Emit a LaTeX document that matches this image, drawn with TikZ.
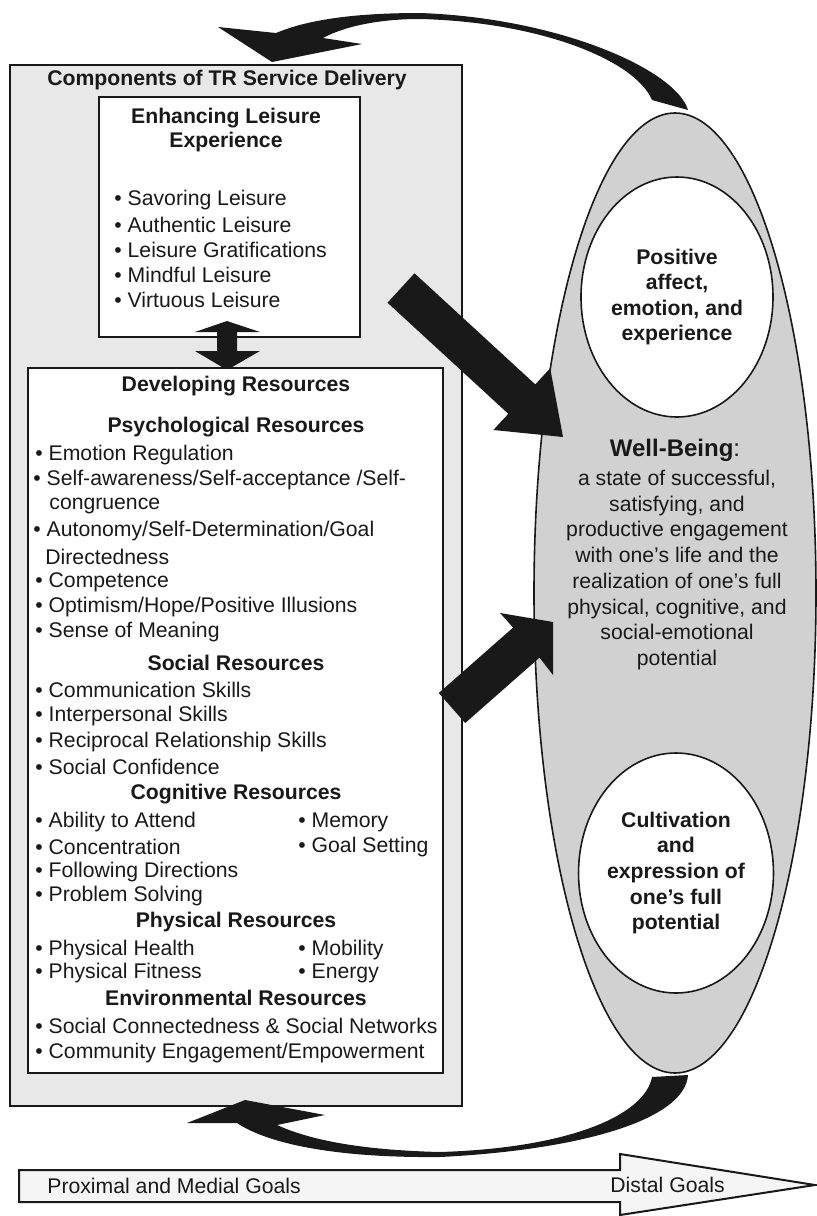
\documentclass[tikz,border=0pt]{standalone}
\usepackage{fontspec}
\setmainfont{Liberation Sans}
\usetikzlibrary{shapes.geometric}
\definecolor{boxgray}{gray}{0.91}
\definecolor{ellgray}{gray}{0.82}
\definecolor{goalgray}{gray}{0.96}
\definecolor{ink}{gray}{0.1}

\begin{document}
\begin{tikzpicture}[x=0.5pt, y=-0.5pt,
  every node/.style={inner sep=0pt, text=ink, font=\fontsize{10.6}{13}\selectfont},
  hdr/.style={font=\fontsize{10.6}{13}\selectfont\bfseries},
  item/.style={anchor=west},
  boxline/.style={draw=ink, line width=1pt},
  oval/.style={draw=ink, line width=0.8pt, ellipse, inner sep=0pt, align=center},
  fat/.style={fill=ink}]
  \useasboundingbox (0,0) rectangle (817,1216);

  % outer frame
  \draw[boxline, fill=boxgray] (10,65) rectangle (462,1106);
  \node[hdr] (comp) at (227,80) {Components of TR Service Delivery};

  % leisure experience
  \draw[boxline, fill=white] (99,97) rectangle (360,337);
  \node[hdr, align=center, font=\fontsize{10.6}{12}\selectfont\bfseries] (enh) at (226,130) {Enhancing Leisure\\Experience};
  \foreach \txt [count=\i] in {Savoring Leisure, Authentic Leisure, Leisure Gratifications, Mindful Leisure, Virtuous Leisure}
    \node[item] (enh-\i) at (114, {175+25*\i}) {• \txt};

  % double arrow between the boxes
  \fill[ink] (227,321) -- (260,332) -- (237,332) -- (237,351) -- (260,351) -- (227,370)
    -- (195,351) -- (217,351) -- (217,332) -- (195,332) -- cycle;

  % developing resources
  \draw[boxline, fill=white] (28,368) rectangle (443,1073);
  \node[hdr] (dev) at (236,386) {Developing Resources};

  \node[hdr] (psy) at (236,427) {Psychological Resources};
  \node[item] (psy-1) at (35,455) {• Emotion Regulation};
  \node[item] (psy-2) at (33,480) {• Self-awareness/Self-acceptance /Self-};
  \node[item] (psy-3) at (49,506) {congruence};
  \node[item] (psy-4) at (33,531) {• Autonomy/Self-Determination/Goal};
  \node[item] (psy-5) at (45,557) {Directedness};
  \node[item] (psy-6) at (35,582) {• Competence};
  \node[item] (psy-7) at (35,607) {• Optimism/Hope/Positive Illusions};
  \node[item] (psy-8) at (35,632) {• Sense of Meaning};

  \node[hdr] (soc) at (236,663) {Social Resources};
  \foreach \y/\txt [count=\i] in {690/Communication Skills, 716/Interpersonal Skills,
      742/Reciprocal Relationship Skills, 767/Social Confidence}
    \node[item] (soc-\i) at (35,\y) {• \txt};

  \node[hdr] (cog) at (236,794) {Cognitive Resources};
  \foreach \y/\a/\b [count=\i] in {822/Ability to Attend/Memory, 847/Concentration/Goal Setting} {
    \node[item] (cog-\i) at (35,\y) {• \a};
    \node[item] (cogr-\i) at (298,\y) {• \b};
  }
  \node[item] (cog-3) at (35,872) {• Following Directions};
  \node[item] (cog-4) at (35,896) {• Problem Solving};

  \node[hdr] (phy) at (236,922) {Physical Resources};
  \foreach \y/\a/\b [count=\i] in {950/Physical Health/Mobility, 973/Physical Fitness/Energy} {
    \node[item] (phy-\i) at (35,\y) {• \a};
    \node[item] (phyr-\i) at (298,\y) {• \b};
  }

  \node[hdr] (env) at (236,998) {Environmental Resources};
  \node[item] (env-1) at (35,1026) {• Social Connectedness \& Social Networks};
  \node[item] (env-2) at (35,1053) {• Community Engagement/Empowerment};

  % well-being oval
  \node[oval, fill=ellgray, minimum width=141pt, minimum height=480pt] (wb) at (675,593) {};
  \node[oval, fill=white, minimum width=96pt, minimum height=120pt, hdr,
    font=\fontsize{10.6}{12.8}\selectfont\bfseries] (affect) at (677,297)
    {Positive\\affect,\\emotion, and\\experience};
  \node[oval, fill=white, minimum width=96pt, minimum height=120pt, hdr,
    font=\fontsize{10.6}{12.8}\selectfont\bfseries] (cult) at (676,873)
    {Cultivation\\and\\expression of\\one’s full\\potential};
  \node (wbtitle) at (675,450) {\fontsize{12}{14}\selectfont\textbf{Well-Being}:};
  \node[align=center, font=\fontsize{10.6}{12.85}\selectfont] (wbtext) at (677,570)
    {a state of successful,\\satisfying, and\\productive engagement\\with one’s life and the\\realization of one’s full\\physical, cognitive, and\\social-emotional\\potential};

  % straight arrows into the oval
  \fill[fat] (414.5,273.3) -- (535.3,384.4) -- (550.2,368.2) -- (563,437) -- (493.4,430)
    -- (508.3,413.8) -- (387.5,302.7) -- cycle;
  \fill[fat] (438.8,693) -- (513.1,627.6) -- (500,613) -- (553,622) -- (553,675)
    -- (539.5,657.6) -- (465.2,723) -- cycle;

  % curved arrow back over the top
  \fill[fat] (688,110) .. controls (676,70) and (560,18) .. (420,13)
    .. controls (340,13) and (300,23) .. (276,33)
    -- (218,27) -- (272,62) -- (362,44) -- (323,38)
    .. controls (345,26) and (380,19) .. (420,19)
    .. controls (540,22) and (635,60) .. (652,100) -- cycle;

  % curved arrow back under the bottom
  \fill[fat] (688,1075) .. controls (685,1120) and (580,1150) .. (440,1157)
    .. controls (340,1158) and (270,1145) .. (237,1123)
    -- (187,1123) -- (245,1100) -- (325,1115) -- (277,1125)
    .. controls (310,1140) and (360,1150) .. (440,1152)
    .. controls (570,1148) and (645,1115) .. (652,1077) -- cycle;

  % goals arrow
  \draw[boxline, fill=goalgray] (19,1170) -- (620,1170) -- (620,1154) -- (815,1185)
    -- (620,1215) -- (620,1202) -- (19,1202) -- cycle;
  \node[item] (prox) at (47,1186) {Proximal and Medial Goals};
  \node[item] (distal) at (610,1185) {Distal Goals};
\end{tikzpicture}
\end{document}
